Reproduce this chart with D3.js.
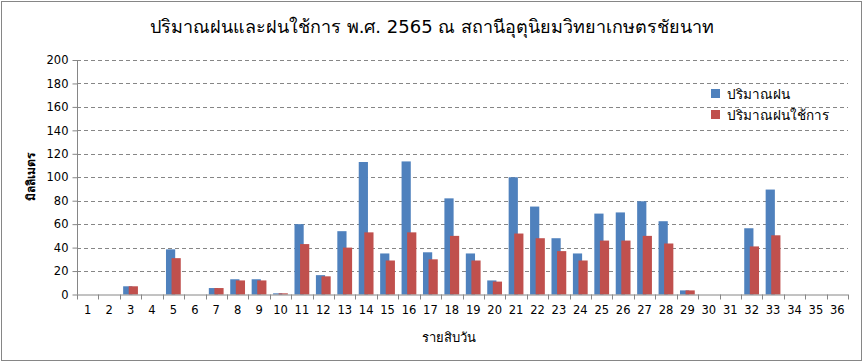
<!DOCTYPE html>
<html><head><meta charset="utf-8">
<script src="https://cdn.jsdelivr.net/npm/d3@7"></script>
<style>
body{margin:0;background:#fff;}
svg{display:block;}
text{font-family:"DejaVu Sans",Tahoma,Verdana,sans-serif;fill:#000;}
</style></head><body>
<svg id="c" width="864" height="362"></svg>
<script>
const categories = d3.range(1, 37).map(String);
const rainfall = [0,0,7,0,38.5,0,5.5,13,13,1,60,16.5,54,113,35,113.5,36,82,35,12,100,75,48,35,69,70,79.5,62.5,3.5,0,0,56.5,89.5,0,0,0];
const effectiveRain = [0,0,7,0,31,0,5.5,12,12,1,43,15.5,40,53,29,53,30,50,29,11,52,48,37,29,46,46,50,43.5,3.5,0,0,41,50.5,0,0,0];
const seriesNames = ["ปริมาณฝน","ปริมาณฝนใช้การ"];
const colors = ["#4F81BD","#C0504D"];
const yTicks = [0,20,40,60,80,100,120,140,160,180,200];
const title = "ปริมาณฝนและฝนใช้การ พ.ศ. 2565 ณ สถานีอุตุนิยมวิทยาเกษตรชัยนาท";
const yTitle = "มิลลิเมตร";
const xTitle = "รายสิบวัน";

const svg = d3.select("#c");
const L = 77, R = 848, T = 60, B = 294.5;

svg.append("rect").attr("x",1.5).attr("y",1.5).attr("width",860).attr("height",359)
  .attr("fill","#fff").attr("stroke","#868686").attr("stroke-width",1);

const x = d3.scaleBand().domain(categories).range([L,R]).paddingInner(0).paddingOuter(0);
const y = d3.scaleLinear().domain([0,200]).range([B,T]);

svg.append("g").selectAll("line").data(yTicks.filter(d=>d>0)).join("line")
  .attr("x1",L).attr("x2",R)
  .attr("y1",d=>Math.round(y(d))+0.5).attr("y2",d=>Math.round(y(d))+0.5)
  .attr("stroke","#868686").attr("stroke-dasharray","4,3").attr("stroke-width",1);

const bw = x.bandwidth();
const barW = bw*0.43;
const offset = bw*0.26;
const groupW = barW + offset;

const series = [rainfall, effectiveRain];
series.forEach((vals, si) => {
  svg.append("g").selectAll("rect").data(vals).join("rect")
    .attr("x",(d,i)=> x(categories[i]) + (bw-groupW)/2 + si*offset)
    .attr("width",barW)
    .attr("y",d=>y(d))
    .attr("height",d=>B - y(d))
    .attr("fill",colors[si]);
});

const yAxis = d3.axisLeft(y).tickValues(yTicks).tickSize(5).tickPadding(4);
const gy = svg.append("g").attr("transform",`translate(${L+0.5},0)`).call(yAxis);
gy.select(".domain").attr("stroke","#868686").attr("d",`M0,${T}V${B}`);
gy.selectAll(".tick line").attr("stroke","#868686");
gy.selectAll(".tick text").attr("font-size","11.5px").attr("fill","#000")
  .style("font-family",'"DejaVu Sans",sans-serif');

const xAxis = d3.axisBottom(x).tickSize(0).tickPadding(11);
const gx = svg.append("g").attr("transform",`translate(0,${B})`).call(xAxis);
gx.select(".domain").attr("stroke","#868686").attr("d",`M${L},0.5H${R}`);
gx.selectAll(".tick text").attr("font-size","11.5px").attr("fill","#000")
  .style("font-family",'"DejaVu Sans",sans-serif');
svg.append("g").selectAll("line").data(categories.concat(["end"])).join("line")
  .attr("x1",(d,i)=> Math.round(L + i*bw)+0.5).attr("x2",(d,i)=> Math.round(L + i*bw)+0.5)
  .attr("y1",B).attr("y2",B+5).attr("stroke","#868686");

svg.append("text").attr("x",432).attr("y",33).attr("text-anchor","middle")
  .attr("font-size","18px").text(title);
svg.append("text").attr("transform","translate(35,177) rotate(-90)").attr("text-anchor","middle")
  .attr("font-size","12px").attr("font-weight","bold").text(yTitle);
svg.append("text").attr("x",449).attr("y",342).attr("text-anchor","middle")
  .attr("font-size","13px").text(xTitle);

const lg = svg.append("g");
seriesNames.forEach((n,i)=>{
  lg.append("rect").attr("x",711).attr("y",89+i*21).attr("width",9).attr("height",9).attr("fill",colors[i]);
  lg.append("text").attr("x",727).attr("y",98.5+i*21).attr("font-size","13.5px").text(n);
});
</script>
</body></html>
